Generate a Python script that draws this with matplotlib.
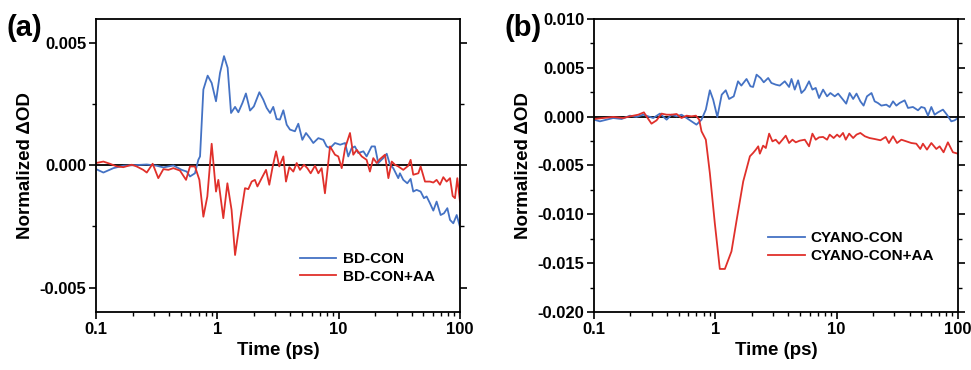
import matplotlib
matplotlib.use('Agg')
import matplotlib.pyplot as plt
from matplotlib.ticker import FixedLocator, MultipleLocator, FormatStrFormatter, FuncFormatter, LogLocator, NullFormatter
import numpy as np

plt.rcParams['font.family'] = ['Liberation Sans', 'DejaVu Sans']
plt.rcParams['font.weight'] = 'bold'

blue = '#4472C4'
red = '#E0302B'

# transient absorption kinetics, delta OD in units of 1e-3
t_bd = [0.1, 0.115, 0.139, 0.168, 0.203, 0.262, 0.316, 0.359, 0.434, 0.508,
        0.559, 0.595, 0.654, 0.697, 0.720, 0.767, 0.832, 0.898, 0.975, 1.052,
        1.135, 1.216, 1.297, 1.40, 1.49, 1.61, 1.72, 1.86, 2.00, 2.22,
        2.39, 2.55, 2.72, 2.89, 3.08, 3.28, 3.50, 3.73, 3.97, 4.36,
        4.65, 5.02, 5.38, 5.80, 6.18, 6.80, 7.48, 7.96, 8.49, 9.33,
        10.3, 11.3, 12.0, 12.8, 13.6, 14.5, 16.0, 17.0, 18.7, 19.9,
        21.2, 23.3, 24.9, 26.5, 28.2, 31.0, 32.0, 34.1, 36.8, 39.2,
        41.2, 43.9, 47.4, 50.5, 53.1, 56.6, 60.3, 64.2, 69.3, 73.8,
        78.7, 82.8, 88.1, 94.0, 100]
od_bd = [-0.15, -0.29, -0.11, -0.01, 0.01, 0.04, -0.01, -0.08, 0.00, -0.18,
         -0.25, -0.45, -0.32, 0.23, 0.37, 3.11, 3.68, 3.38, 2.63, 3.79,
         4.48, 4.00, 2.15, 2.40, 2.18, 2.56, 2.95, 2.25, 2.42, 3.00,
         2.70, 2.36, 2.15, 2.40, 1.90, 1.88, 2.26, 1.67, 1.47, 1.40,
         1.71, 1.05, 1.33, 1.12, 0.92, 1.12, 1.05, 0.78, 0.71, 0.92,
         0.85, 0.92, 0.37, 0.71, 0.78, 0.51, 0.58, 0.37, 0.78, 0.78,
         0.10, 0.30, 0.48, 0.03, -0.11, -0.52, -0.32, -0.59, -0.73, -0.55,
         -1.07, -1.00, -1.07, -1.34, -1.27, -1.55, -1.85, -1.48, -2.03, -1.96,
         -1.75, -2.23, -2.37, -2.03, -2.51]

t_bd_aa = [0.1, 0.115, 0.130, 0.148, 0.168, 0.197, 0.216, 0.245, 0.262, 0.293,
           0.326, 0.359, 0.395, 0.434, 0.492, 0.552, 0.595, 0.654, 0.711, 0.767,
           0.827, 0.898, 0.975, 1.019, 1.12, 1.21, 1.31, 1.40, 1.54, 1.69,
           1.80, 1.92, 2.04, 2.14, 2.32, 2.52, 2.68, 2.86, 3.05, 3.24,
           3.50, 3.68, 3.92, 4.23, 4.51, 4.80, 5.18, 5.52, 5.88, 6.38,
           6.80, 7.24, 7.71, 8.49, 9.33, 9.93, 10.6, 11.3, 12.4, 13.2,
           14.1, 15.5, 17.0, 18.1, 19.3, 20.6, 21.9, 24.1, 25.7, 27.4,
           29.1, 31.0, 34.1, 37.5, 39.2, 41.2, 45.4, 47.4, 51.5, 56.6,
           60.3, 64.2, 68.4, 72.9, 77.6, 82.8, 87.1, 91.0, 95.1, 100]
od_bd_aa = [0.10, 0.16, 0.07, -0.04, -0.07, 0.03, -0.04, -0.18, -0.29, 0.07,
            -0.52, -0.15, -0.18, -0.11, -0.21, -0.59, -0.04, -0.04, -0.59, -2.10,
            -1.27, 0.89, -1.07, -0.59, -2.16, -0.73, -1.82, -3.67, -2.23, -0.93,
            -0.97, -0.66, -0.59, -0.86, -0.52, -0.18, -0.79, -0.04, 0.58, -0.04,
            0.37, -0.66, -0.07, -0.25, 0.10, -0.18, 0.03, -0.11, -0.32, -0.01,
            -0.32, -0.11, -1.14, 0.78, 0.44, 0.37, -0.11, 0.71, 1.33, 0.44,
            0.64, 0.37, 0.23, -0.25, 0.30, 0.10, 0.26, 0.44, -0.52, 0.16,
            0.03, -0.04, -0.18, -0.01, 0.23, -0.38, -0.32, -0.04, -0.66, -0.66,
            -0.70, -0.59, -0.79, -0.48, -0.66, -0.52, -1.25, -1.34, -0.52, -1.48]

t_cy = [0.1, 0.112, 0.127, 0.144, 0.169, 0.198, 0.224, 0.255, 0.280, 0.308,
        0.350, 0.397, 0.436, 0.480, 0.527, 0.580, 0.637, 0.700, 0.770, 0.836,
        0.902, 0.961, 1.04, 1.13, 1.22, 1.30, 1.42, 1.54, 1.64, 1.81,
        1.95, 2.05, 2.19, 2.36, 2.51, 2.73, 2.90, 3.15, 3.40, 3.74,
        4.06, 4.25, 4.52, 4.82, 5.13, 5.47, 5.93, 6.32, 6.73, 7.17,
        7.74, 8.35, 8.89, 9.66, 10.3, 11.3, 12.0, 12.8, 13.7, 14.6,
        15.7, 16.7, 17.8, 19.4, 20.6, 21.9, 23.4, 25.7, 27.4, 29.2,
        31.1, 33.1, 36.4, 38.8, 42.6, 46.9, 49.9, 53.2, 56.7, 60.4,
        64.3, 68.5, 75.3, 81.2, 88.2, 93.9, 100]
od_cy = [-0.31, -0.48, -0.31, -0.14, -0.24, 0.10, -0.03, 0.20, 0.03, -0.14,
         0.31, -0.31, 0.20, 0.03, 0.20, -0.14, -0.48, -0.82, -0.31, 0.72,
         2.70, 1.74, -0.03, 2.25, 2.70, 1.81, 2.08, 3.62, 3.18, 3.86,
         3.11, 3.04, 4.30, 3.96, 3.52, 3.96, 3.45, 3.28, 3.18, 3.62,
         3.04, 3.86, 2.77, 3.72, 2.42, 2.77, 3.62, 2.77, 2.94, 1.91,
         2.77, 2.08, 2.42, 2.08, 2.36, 1.74, 1.33, 2.42, 1.81, 2.36,
         1.57, 1.13, 2.08, 2.42, 1.57, 1.40, 1.13, 1.23, 0.99, 1.57,
         1.13, 1.40, 1.67, 0.89, 0.99, 0.65, 0.99, 0.89, 0.10, 0.99,
         0.20, 0.44, 0.72, 0.20, -0.48, -0.38, -0.14]

t_cy_aa = [0.1, 0.119, 0.144, 0.174, 0.198, 0.232, 0.258, 0.271, 0.298, 0.328,
           0.361, 0.397, 0.436, 0.480, 0.527, 0.580, 0.637, 0.692, 0.737, 0.770,
           0.836, 0.902, 0.991, 1.09, 1.20, 1.36, 1.50, 1.70, 1.93, 2.05,
           2.16, 2.26, 2.33, 2.48, 2.61, 2.78, 2.96, 3.15, 3.36, 3.58,
           3.81, 4.06, 4.33, 4.61, 4.97, 5.47, 5.93, 6.32, 6.73, 7.17,
           7.74, 8.35, 8.77, 9.46, 10.1, 10.6, 11.3, 11.9, 12.7, 13.7,
           14.6, 15.7, 17.1, 18.7, 20.6, 23.0, 25.4, 27.0, 29.2, 31.5,
           34.2, 37.6, 41.3, 45.4, 49.0, 51.5, 55.6, 60.4, 66.4, 70.7,
           76.2, 82.7, 91.0, 100]
od_cy_aa = [-0.24, -0.14, -0.03, -0.14, 0.03, 0.20, 0.44, 0.03, -0.72, -0.38,
            0.31, 0.20, 0.20, 0.27, -0.14, 0.10, 0.03, 0.10, -0.31, -1.50,
            -2.36, -5.77, -10.9, -15.6, -15.6, -13.8, -10.6, -6.63, -4.06, -3.72,
            -3.38, -3.04, -3.79, -2.97, -3.21, -1.74, -2.53, -2.36, -2.77, -2.36,
            -1.95, -2.70, -2.36, -2.63, -2.46, -2.36, -3.04, -1.74, -2.36, -2.12,
            -2.08, -2.36, -1.84, -2.19, -1.84, -2.08, -1.67, -2.36, -1.74, -2.19,
            -1.84, -1.67, -2.01, -2.19, -2.29, -2.42, -2.08, -2.70, -2.01, -2.70,
            -2.36, -2.53, -2.70, -2.77, -3.31, -2.77, -3.38, -2.70, -3.31, -3.04,
            -3.65, -2.63, -3.65, -3.79]

panels = [
    ('(a)', [0.0989, 0.157, 0.3748, 0.7916], (-0.006, 0.006),
     [(t_bd, od_bd, blue, 'BD-CON'), (t_bd_aa, od_bd_aa, red, 'BD-CON+AA')],
     (0.56, 0.205)),
    ('(b)', [0.6117, 0.157, 0.3748, 0.7916], (-0.020, 0.010),
     [(t_cy, od_cy, blue, 'CYANO-CON'), (t_cy_aa, od_cy_aa, red, 'CYANO-CON+AA')],
     (0.478, 0.275)),
]

fig = plt.figure(figsize=(9.71, 3.70), dpi=100)

for tag, rect, ylim, series, leg_xy in panels:
    ax = fig.add_axes(rect)
    ax.axhline(0, color='black', lw=1.3, zorder=1)
    for t, od, c, lab in series:
        ax.plot(t, np.array(od) * 1e-3, color=c, lw=1.3, label=lab, zorder=2)

    ax.set_xscale('log')
    ax.set_xlim(0.1, 100)
    ax.set_ylim(*ylim)
    ax.xaxis.set_major_locator(FixedLocator([0.1, 1, 10, 100]))
    ax.xaxis.set_major_formatter(FuncFormatter(lambda v, p: '%g' % v))
    ax.xaxis.set_minor_locator(LogLocator(base=10, subs=np.arange(2, 10)))
    ax.xaxis.set_minor_formatter(NullFormatter())
    ax.yaxis.set_major_locator(MultipleLocator(0.005))
    ax.yaxis.set_minor_locator(MultipleLocator(0.0025))
    ax.yaxis.set_major_formatter(FormatStrFormatter('%.3f'))

    ax.tick_params(which='major', direction='out', length=5, width=1.2,
                   labelsize=12, pad=2, right=True)
    ax.tick_params(which='minor', direction='out', length=3, width=1.0, right=True)
    ax.tick_params(axis='y', which='both', right=True)
    for spine in ax.spines.values():
        spine.set_linewidth(1.3)

    ax.set_xlabel('Time (ps)', fontsize=13.5, fontweight='bold', labelpad=4)
    ax.set_ylabel('Normalized ΔOD', fontsize=13.5, fontweight='bold', labelpad=4)

    ax.legend(loc='upper left', bbox_to_anchor=leg_xy, frameon=False,
              fontsize=11, handlelength=2.4, handletextpad=0.4,
              labelspacing=0.25, borderpad=0, borderaxespad=0)

    fig.text(rect[0] - 0.092, 0.925, tag, fontsize=21, fontweight='bold',
             ha='left', va='center')

fig.savefig('out.png', dpi=100)
